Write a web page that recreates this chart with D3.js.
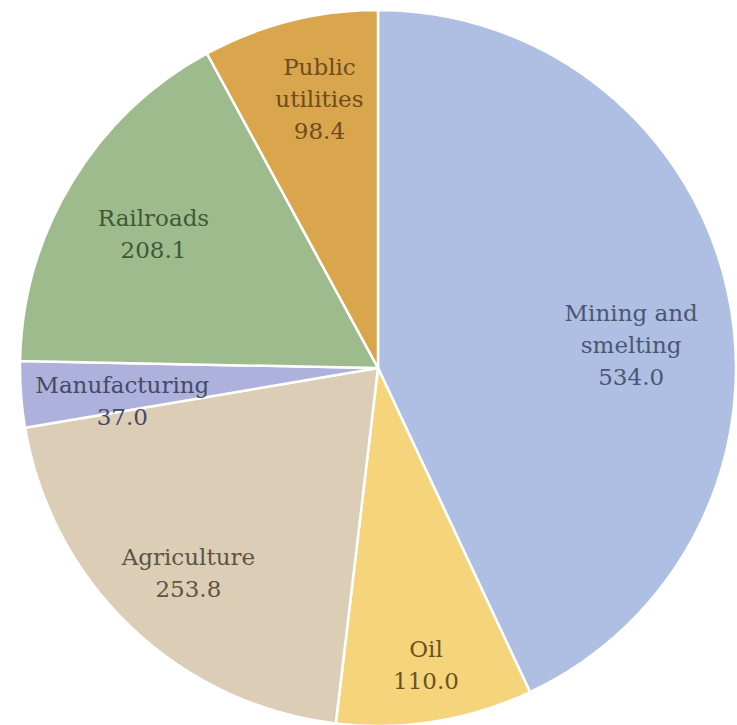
<!DOCTYPE html>
<html>
<head>
<meta charset="utf-8">
<script src="https://cdn.jsdelivr.net/npm/d3@7"></script>
<style>
  html, body { margin: 0; padding: 0; background: #ffffff; }
  svg { display: block; }
</style>
</head>
<body>
<svg id="chart" width="737" height="725"></svg>
<script>
// ---- data ----
const categories = ["Mining and smelting", "Oil", "Agriculture", "Manufacturing", "Railroads", "Public utilities"];
const values = [534.0, 110.0, 253.8, 37.0, 208.1, 98.4];
const labelLines = [["Mining and", "smelting"], ["Oil"], ["Agriculture"], ["Manufacturing"], ["Railroads"], ["Public", "utilities"]];

// ---- style / layout (not data) ----
const fills = ["#aebfe3", "#f6d47c", "#dccdb6", "#aeb1dc", "#9dbb8d", "#d9a54d"];
const textColors = ["#4b5772", "#6a5322", "#5e5444", "#474a66", "#3d5a34", "#6e4c1c"];
const labelRadiusFrac = [0.71, 0.84, 0.78, 0.72, 0.73, 0.77];
const labelAngleNudgeDeg = [7.4, 0, -0.8, -3, -0.5, 2];

const W = 737, H = 725;
const cx = 378, cy = 368, R = 358;
const fontSize = 23, lineGap = 32;

const svg = d3.select("#chart");
const g = svg.append("g").attr("transform", `translate(${cx},${cy})`);

const data = categories.map((c, i) => ({ cat: c, value: values[i], i }));

const pie = d3.pie().value(d => d.value).sort(null);
const arcs = pie(data);
const arc = d3.arc().innerRadius(0).outerRadius(R);
const color = d3.scaleOrdinal().domain(categories).range(fills);
const tcolor = d3.scaleOrdinal().domain(categories).range(textColors);

g.selectAll("path.slice")
  .data(arcs)
  .join("path")
  .attr("class", "slice")
  .attr("d", arc)
  .attr("fill", d => color(d.data.cat))
  .attr("stroke", "#ffffff")
  .attr("stroke-width", 2.5)
  .attr("stroke-linejoin", "round");

const labels = g.selectAll("g.label")
  .data(arcs)
  .join("g")
  .attr("class", "label")
  .attr("transform", d => {
    const i = d.data.i;
    const a = (d.startAngle + d.endAngle) / 2 + labelAngleNudgeDeg[i] * Math.PI / 180;
    const r = R * labelRadiusFrac[i];
    return `translate(${r * Math.sin(a)},${-r * Math.cos(a)})`;
  });

labels.each(function(d) {
  const i = d.data.i;
  const lines = labelLines[i].concat([d3.format(".1f")(d.data.value)]);
  const n = lines.length;
  const t = d3.select(this).append("text")
    .attr("text-anchor", "middle")
    .attr("font-family", "'DejaVu Serif', 'Liberation Serif', serif")
    .attr("font-size", fontSize)
    .attr("fill", tcolor(d.data.cat));
  lines.forEach((ln, k) => {
    t.append("tspan")
      .attr("x", 0)
      .attr("y", (k - (n - 1) / 2) * lineGap)
      .attr("dy", "0.35em")
      .text(ln);
  });
});
</script>
</body>
</html>
